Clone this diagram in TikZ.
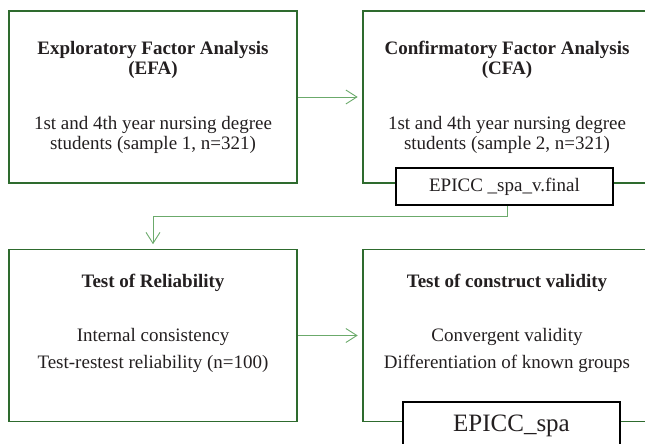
\documentclass[tikz,border=0pt]{standalone}
\usepackage{fontspec}
\setmainfont{Liberation Serif}
\usepackage{xcolor}
\usetikzlibrary{arrows.meta,positioning}
\definecolor{pgreen}{HTML}{2E6B2E}
\definecolor{parrow}{HTML}{6BAA6B}
\definecolor{ptext}{HTML}{231F20}

\tikzset{
  stagebox/.style={draw=pgreen,line width=1.6pt,minimum width=288pt,
    minimum height=172pt,align=center,inner sep=0pt,text=ptext},
  tagbox/.style={draw=black,fill=white,line width=1.6pt,minimum width=217pt,
    inner sep=0pt,text=ptext},
  flow/.style={draw=parrow,line width=0.9pt,
    -{Straight Barb[length=11pt,width=14pt]},shorten >=4.5pt}
}

\begin{document}
\begin{tikzpicture}[x=1pt,y=-1pt]

      \useasboundingbox (0,0) rectangle (645,444);
      \clip (0,0) rectangle (645,444);

      % EFA box
      \node[stagebox,font=\fontsize{19}{20}\selectfont] (efa) at (153,97) {
        {\bfseries Exploratory Factor Analysis}\\
        {\bfseries (EFA)}\\[35pt]
        1st and 4th year nursing degree\\
        students (sample 1, n=321)
      };

      % CFA box
      \node[stagebox,font=\fontsize{19}{20}\selectfont] (cfa) at (507,97) {
        {\bfseries Confirmatory Factor Analysis}\\
        {\bfseries (CFA)}\\[35pt]
        1st and 4th year nursing degree\\
        students (sample 2, n=321)
      };

      % reliability box
      \node[stagebox,font=\fontsize{19}{27}\selectfont,text depth=29pt] (rel) at (153,335.5) {
        {\bfseries Test of Reliability}\\[27pt]
        Internal consistency\\
        Test-restest reliability (n=100)
      };

      % validity box
      \node[stagebox,font=\fontsize{19}{27}\selectfont,text depth=29pt] (con) at (507,335.5) {
        {\bfseries Test of construct validity}\\[27pt]
        Convergent validity\\
        Differentiation of known groups
      };

      % version tags
      \node[tagbox,minimum height=37pt,font=\fontsize{19}{20}\selectfont] (ver) at (504.5,186.5) {EPICC \_spa\_v.final};
      \node[tagbox,minimum height=48pt,font=\fontsize{25}{28}\selectfont] (spa) at (511.5,426) {EPICC\_spa};

      % arrows
      \draw[flow] (efa) -- (cfa);
      \draw[flow] ([xshift=2.5pt]ver.south) -- ++(0,11) -| (rel.north);
      \draw[flow] (rel) -- (con);

\end{tikzpicture}
\end{document}
